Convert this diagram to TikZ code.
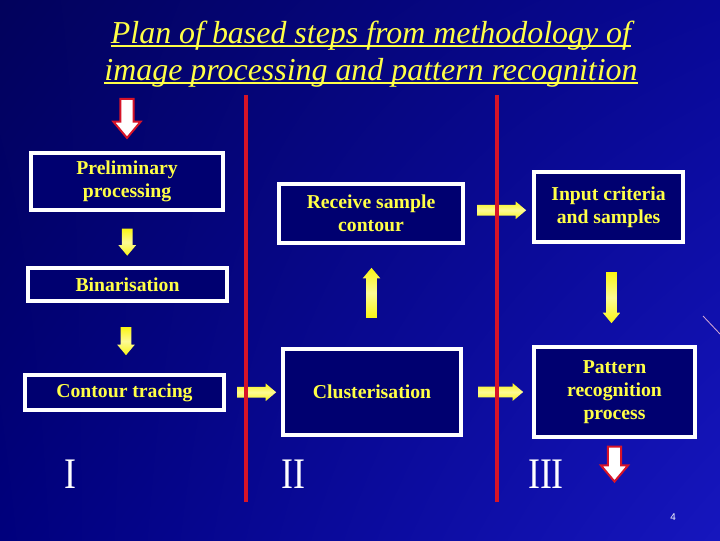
\documentclass[tikz,border=0pt]{standalone}
\usepackage{fontspec}
\setmainfont{Liberation Serif}
\newfontfamily\pagefont{Liberation Sans}
\usetikzlibrary{shapes.arrows,calc,shadings}

\definecolor{bgtl}{RGB}{2,2,92}
\definecolor{bgtr}{RGB}{8,8,150}
\definecolor{bgbl}{RGB}{0,0,125}
\definecolor{bgbr}{RGB}{22,22,190}
\definecolor{boxblue}{RGB}{0,0,112}
\definecolor{slideyellow}{RGB}{255,255,70}
\definecolor{arrowyellow}{RGB}{250,245,20}
\definecolor{slidered}{RGB}{215,20,40}

\begin{document}
\begin{tikzpicture}[x=0.025cm, y=-0.025cm,
  titleline/.style={text=slideyellow, inner sep=0pt, font=\fontsize{22.7}{26.5}\selectfont\itshape},
  underline/.style={slideyellow, line width=2pt},
  stepbox/.style={draw=white, line width=2.2pt, fill=boxblue, text=slideyellow,
    font=\fontsize{14}{16.5}\selectfont\bfseries, align=center, inner sep=2pt},
  yarrow/.style={single arrow, draw=none, inner xsep=0pt, inner ysep=0.125cm,
    minimum width=0.425cm, single arrow head extend=0.0875cm, single arrow tip angle=80,
    top color=arrowyellow, bottom color=arrowyellow, middle color=white!55!arrowyellow},
  rarrow/.style={single arrow, draw=slidered, line width=1.4pt, fill=white,
    inner xsep=0pt, inner ysep=0.14cm, minimum width=0.68cm,
    single arrow head extend=0.17cm, single arrow tip angle=80},
  divider/.style={slidered, line width=2.2pt},
  numeral/.style={text=white, font=\fontsize{31}{32}\selectfont, xscale=0.82, transform shape}]

  % Slide background
  \useasboundingbox (0,0) rectangle (720,540);
  \shade[upper left=bgtl, upper right=bgtr, lower left=bgbl, lower right=bgbr]
    (0,0) rectangle (720,540);
  \draw[violet!35!white, line width=0.6pt] (703,316) -- (720,334);

  % Title
  \node[titleline, anchor=base] (title1) at (371,43) {Plan of based steps from methodology of};
  \node[titleline, anchor=base] (title2) at (371,80) {image processing and pattern recognition};
  \draw[underline] ($(title1.base west)+(0,3)$) -- ($(title1.base east)+(0,3)$);
  \draw[underline] ($(title2.base west)+(0,3)$) -- ($(title2.base east)+(0,3)$);

  % Stage I
  \node[stepbox, minimum width=4.8cm, minimum height=1.425cm] (pre) at (127,181.5) {Preliminary\\processing};
  \node[stepbox, minimum width=4.975cm, minimum height=0.825cm] (bin) at (127.5,284.5) {Binarisation};
  \node[stepbox, minimum width=4.975cm, minimum height=0.875cm] (cont) at (124.5,392.5) {Contour tracing};

  % Stage II
  \node[stepbox, minimum width=4.45cm, minimum height=2.15cm] (clus) at (372,392) {Clusterisation};
  \node[stepbox, minimum width=4.6cm, minimum height=1.475cm] (recv) at (371,213.5) {Receive sample\\contour};

  % Stage III
  \node[stepbox, minimum width=3.725cm, minimum height=1.75cm] (inp) at (608.5,207) {Input criteria\\and samples};
  \node[stepbox, minimum width=4.025cm, minimum height=2.25cm] (patt) at (614.5,392) {Pattern\\recognition\\process};

  % Block arrows between the steps
  \node[rarrow, minimum height=0.975cm, rotate=-90, anchor=tip] (start) at ($(pre.north)+(0,-12)$) {};
  \node[yarrow, minimum height=0.675cm, rotate=-90] (prebin) at ($(pre.south)!0.5!(bin.north)$) {};
  \node[yarrow, minimum height=0.7cm, rotate=-90] (bincont) at ($(bin.south)!0.5!(cont.north)$) {};
  \node[yarrow, minimum height=0.975cm] (contclus) at ($(cont.east)!0.5!(clus.west)$) {};
  \node[yarrow, minimum height=1.25cm, rotate=90] (clusrecv) at ($(clus.north)!0.5!(recv.south)$) {};
  \node[yarrow, minimum height=1.225cm] (recvinp) at ($(recv.east)!0.5!(inp.west)$) {};
  \node[yarrow, minimum height=1.275cm, rotate=-90] (inppatt) at ($(inp.south)!0.5!(patt.north)$) {};
  \node[yarrow, minimum height=1.125cm] (cluspatt) at ($(clus.east)!0.5!(patt.west)$) {};
  \node[rarrow, minimum height=0.875cm, rotate=-90, anchor=tail] (finish) at ($(patt.south)+(0,7)$) {};

  % Stage dividers
  \draw[divider] (246,95) -- (246,502);
  \draw[divider] (497,95) -- (497,502);

  % Stage numbers
  \node[numeral] (one) at (70,474) {I};
  \node[numeral] (two) at (293,474) {II};
  \node[numeral] (three) at (546,474) {III};
  \node[text=white, font=\pagefont\fontsize{7}{8}\selectfont] (page) at (673,517) {4};
\end{tikzpicture}
\end{document}
